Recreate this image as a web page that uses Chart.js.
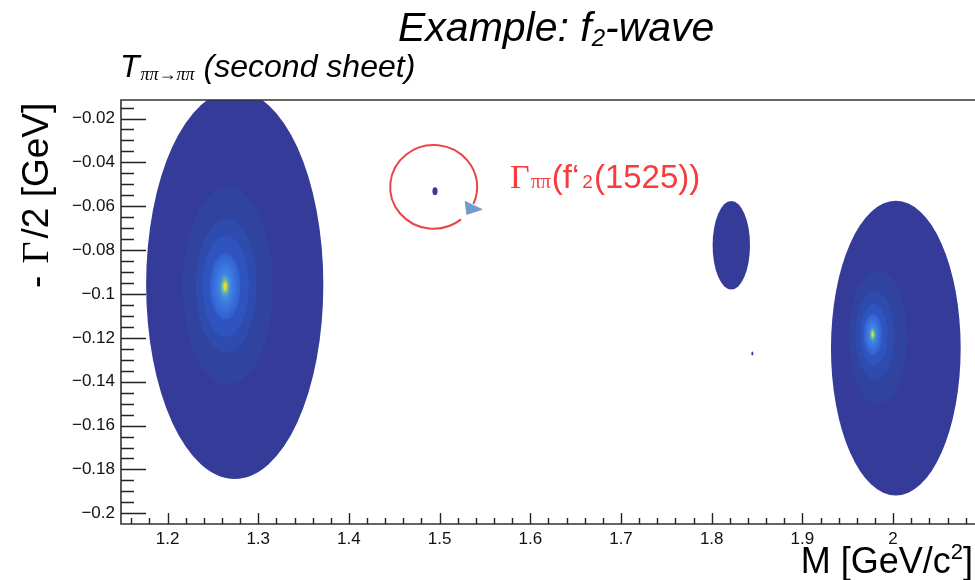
<!DOCTYPE html>
<html>
<head>
<meta charset="utf-8">
<script src="https://cdn.jsdelivr.net/npm/chart.js@4.4.1/dist/chart.umd.min.js"></script>
<style>
  html, body { margin: 0; padding: 0; background: #ffffff; }
  #wrap { width: 975px; height: 580px; position: relative; }
</style>
</head>
<body>
<div id="wrap"><canvas id="poles" width="975" height="580"></canvas></div>
<script>
// Regions of |T(ππ→ππ)| on the second sheet: centre (M, -Γ/2) and semi-axes
const regionMass  = [1.2741, 1.4949, 1.8216, 1.8448, 2.0030];
const regionWidth = [-0.0958, -0.0531, -0.0778, -0.1271, -0.1247];
const regionRadM  = [0.0977, 0.0028, 0.0206, 0.0011, 0.0715];
const regionRadW  = [0.0886, 0.0018, 0.0202, 0.0009, 0.0672];

// Location of the maximum inside each region (null: flat region)
const peakMass  = [1.2634, null, null, null, 1.9775];
const peakWidth = [-0.0965, null, null, null, -0.1184];

// Inner contour levels, as fractions of the region's semi-axes
const contourLevels = [
  [0.51, 0.345, 0.26, 0.17],
  [], [], [],
  [0.455, 0.30, 0.21, 0.14]
];

// Axis ticks (labelled majors; minors every 0.02 on x and 0.005 on y)
const xTickValues = [1.2, 1.3, 1.4, 1.5, 1.6, 1.7, 1.8, 1.9, 2.0];
const xTickLabels = ['1.2', '1.3', '1.4', '1.5', '1.6', '1.7', '1.8', '1.9', '2'];
const yTickValues = [-0.02, -0.04, -0.06, -0.08, -0.1, -0.12, -0.14, -0.16, -0.18, -0.2];
const yTickLabels = ['\u22120.02', '\u22120.04', '\u22120.06', '\u22120.08', '\u22120.1',
                     '\u22120.12', '\u22120.14', '\u22120.16', '\u22120.18', '\u22120.2'];
const xMinorStep = 0.02;
const yMinorStep = 0.005;

// Index of the pole marked by the annotation
const annotatedPole = 1;

const SANS = '"Liberation Sans", Arial, Helvetica, sans-serif';
const SERIF = '"Liberation Serif", "Times New Roman", serif';
const levelColors = ['#353b98', '#30439f', '#2e4bae', '#2f54bf', '#325fce'];

function labelFor(values, labels, v) {
  for (let i = 0; i < values.length; i++) {
    if (Math.abs(values[i] - v) < 1e-6) return labels[i];
  }
  return '';
}
function onGrid(v, step) {
  const r = v / step;
  return Math.abs(r - Math.round(r)) < 1e-6;
}
// Tick list at every minor step inside [min, max]
function minorTicks(min, max, step) {
  const out = [];
  for (let k = Math.ceil(min / step - 1e-9); k * step <= max + 1e-12; k++) {
    out.push({ value: Math.round(k * step * 10000) / 10000 });
  }
  return out;
}

// Draw consecutive text runs with different fonts on one baseline
function drawRuns(ctx, x, y, runs) {
  for (const r of runs) {
    ctx.font = r.font;
    ctx.fillText(r.t, x, y + (r.dy || 0));
    x += ctx.measureText(r.t).width + (r.gap || 0);
  }
  return x;
}
function runsWidth(ctx, runs) {
  let w = 0;
  for (const r of runs) { ctx.font = r.font; w += ctx.measureText(r.t).width + (r.gap || 0); }
  return w;
}

const contourPlugin = {
  id: 'contourPlugin',
  beforeDatasetsDraw(chart) {
    const { ctx, chartArea: a, scales: { x, y } } = chart;
    ctx.save();
    ctx.beginPath();
    ctx.rect(a.left, a.top, a.right - a.left, a.bottom - a.top);
    ctx.clip();
    for (let i = 0; i < regionMass.length; i++) {
      const cx = x.getPixelForValue(regionMass[i]);
      const cy = y.getPixelForValue(regionWidth[i]);
      const rx = x.getPixelForValue(regionMass[i] + regionRadM[i]) - cx;
      const ry = y.getPixelForValue(regionWidth[i] - regionRadW[i]) - cy;
      ctx.fillStyle = levelColors[0];
      ctx.beginPath();
      ctx.ellipse(cx, cy, rx, ry, 0, 0, Math.PI * 2);
      ctx.fill();
      if (peakMass[i] === null) continue;
      const px = x.getPixelForValue(peakMass[i]);
      const py = y.getPixelForValue(peakWidth[i]);
      const levels = contourLevels[i];
      levels.forEach((f, k) => {
        const s = Math.min(1, f * f * 1.1);
        const lx = px + (cx - px) * s;
        const ly = py + (cy - py) * s;
        ctx.fillStyle = levelColors[k + 1];
        ctx.beginPath();
        ctx.ellipse(lx, ly, rx * f, ry * f, 0, 0, Math.PI * 2);
        ctx.fill();
      });
      // smooth core around the maximum
      const f = levels[levels.length - 1];
      const r = rx * f;
      ctx.save();
      ctx.translate(px, py);
      ctx.scale(1, ry / rx);
      const g = ctx.createRadialGradient(0, 0, 0, 0, 0, r);
      g.addColorStop(0.0, '#f6da36');
      g.addColorStop(0.09, '#e2d23e');
      g.addColorStop(0.2, '#5fb6a6');
      g.addColorStop(0.36, '#4087e0');
      g.addColorStop(0.7, '#386fdc');
      g.addColorStop(1.0, levelColors[4]);
      ctx.fillStyle = g;
      ctx.beginPath();
      ctx.arc(0, 0, r, 0, Math.PI * 2);
      ctx.fill();
      ctx.restore();
    }
    ctx.restore();
  },
  afterDraw(chart) {
    const { ctx, chartArea: a, scales: { x, y } } = chart;
    ctx.save();
    // frame
    ctx.strokeStyle = '#333333';
    ctx.lineWidth = 1.6;
    ctx.beginPath();
    ctx.moveTo(a.right + 2, a.top);
    ctx.lineTo(a.left, a.top);
    ctx.lineTo(a.left, a.bottom);
    ctx.lineTo(a.right + 2, a.bottom);
    ctx.stroke();
    // inward ticks
    ctx.lineWidth = 1.4;
    ctx.strokeStyle = '#222222';
    ctx.beginPath();
    for (const t of x.ticks) {
      const px = Math.round(x.getPixelForValue(t.value)) + 0.5;
      if (px < a.left + 1 || px > a.right) continue;
      const len = onGrid(t.value, 0.1) ? 11 : 6;
      ctx.moveTo(px, a.bottom);
      ctx.lineTo(px, a.bottom - len);
    }
    for (const t of y.ticks) {
      const py = Math.round(y.getPixelForValue(t.value)) + 0.5;
      if (py > a.bottom - 1 || py < a.top + 1) continue;
      const len = onGrid(t.value, 0.02) ? 25 : 13;
      ctx.moveTo(a.left, py);
      ctx.lineTo(a.left + len, py);
    }
    ctx.stroke();

    // titles
    ctx.fillStyle = '#000000';
    ctx.textAlign = 'left';
    ctx.textBaseline = 'alphabetic';
    drawRuns(ctx, 398, 41, [
      { t: 'Example: f', font: 'italic 41px ' + SANS },
      { t: '2', font: 'italic 24px ' + SANS, dy: 5 },
      { t: '-wave', font: 'italic 41px ' + SANS }
    ]);
    drawRuns(ctx, 120, 77, [
      { t: 'T', font: 'italic 32px ' + SANS, gap: 1 },
      { t: '\u03c0\u03c0\u2192\u03c0\u03c0', font: 'italic 18px ' + SERIF, dy: 3, gap: 9 },
      { t: '(second sheet)', font: 'italic 32px ' + SANS }
    ]);

    // x axis title, right aligned
    const xRuns = [
      { t: 'M [GeV/c', font: '36px ' + SANS },
      { t: '2', font: '22px ' + SANS, dy: -14 },
      { t: ']', font: '36px ' + SANS }
    ];
    drawRuns(ctx, 973 - runsWidth(ctx, xRuns), 573, xRuns);

    // y axis title, rotated
    ctx.save();
    ctx.translate(48, 288);
    ctx.rotate(-Math.PI / 2);
    drawRuns(ctx, 0, 0, [
      { t: '- ', font: '37px ' + SANS, gap: 2 },
      { t: '\u0393', font: '38px ' + SERIF, gap: 3 },
      { t: '/2 [GeV]', font: '37px ' + SANS }
    ]);
    ctx.restore();

    // annotation around the narrow pole
    const ax = x.getPixelForValue(regionMass[annotatedPole]) - 1.3;
    const ay = y.getPixelForValue(regionWidth[annotatedPole]) - 4.2;
    ctx.strokeStyle = '#e8454a';
    ctx.lineWidth = 2;
    ctx.beginPath();
    ctx.ellipse(ax, ay, 43.5, 41.8, 0, 51 * Math.PI / 180, (360 + 24) * Math.PI / 180);
    ctx.stroke();
    ctx.fillStyle = '#6d9bd3';
    ctx.strokeStyle = '#8a8fa8';
    ctx.lineWidth = 0.8;
    ctx.beginPath();
    ctx.moveTo(ax + 31.5, ay + 14.5);
    ctx.lineTo(ax + 48.5, ay + 22.5);
    ctx.lineTo(ax + 33, ay + 27.5);
    ctx.closePath();
    ctx.fill();
    ctx.stroke();

    ctx.fillStyle = '#f63c3c';
    drawRuns(ctx, 510, 188, [
      { t: '\u0393', font: '34px ' + SERIF, gap: 1 },
      { t: '\u03c0\u03c0', font: '20px ' + SERIF, dy: 0, gap: 1 },
      { t: '(f\u2018', font: '33px ' + SANS, gap: 3 },
      { t: '2', font: '19px ' + SANS, gap: 1 },
      { t: '(1525))', font: '33px ' + SANS }
    ]);
    ctx.restore();
  }
};

const chart = new Chart(document.getElementById('poles'), {
  type: 'scatter',
  data: {
    datasets: [{
      label: 'poles',
      data: regionMass.map((m, i) => ({ x: m, y: regionWidth[i] })),
      pointRadius: 0,
      pointHoverRadius: 0
    }]
  },
  options: {
    responsive: false,
    animation: false,
    events: [],
    layout: { padding: { top: 100, right: 0, bottom: 0, left: 0 } },
    plugins: { legend: { display: false }, tooltip: { enabled: false }, title: { display: false } },
    scales: {
      x: {
        type: 'linear',
        min: 1.1487,
        max: 2.0903,
        grid: { display: false, drawTicks: false },
        border: { display: false },
        afterFit(scale) { scale.height = 56; },
        afterBuildTicks(scale) { scale.ticks = minorTicks(scale.min, scale.max, xMinorStep); },
        ticks: {
          autoSkip: false,
          maxRotation: 0,
          padding: 5,
          color: '#111111',
          font: { family: SANS, size: 17 },
          callback: (v) => labelFor(xTickValues, xTickLabels, v)
        }
      },
      y: {
        type: 'linear',
        min: -0.20488,
        max: -0.01155,
        grid: { display: false, drawTicks: false },
        border: { display: false },
        afterFit(scale) { scale.width = 121; },
        afterBuildTicks(scale) { scale.ticks = minorTicks(scale.min, scale.max, yMinorStep); },
        ticks: {
          autoSkip: false,
          padding: 6,
          color: '#111111',
          font: { family: SANS, size: 17 },
          callback: (v) => labelFor(yTickValues, yTickLabels, v)
        }
      }
    }
  },
  plugins: [contourPlugin]
});
</script>
</body>
</html>
